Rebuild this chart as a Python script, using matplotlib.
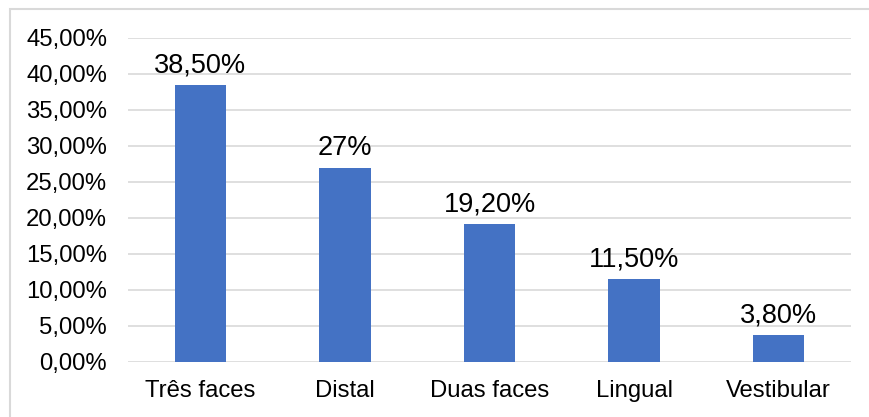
import matplotlib.pyplot as plt
from matplotlib.patches import Rectangle
from matplotlib.ticker import FuncFormatter

plt.rcParams['font.family'] = ['Liberation Sans', 'DejaVu Sans']

# dados
categorias = ['Três faces', 'Distal', 'Duas faces', 'Lingual', 'Vestibular']
valores = [38.5, 27.0, 19.2, 11.5, 3.8]
rotulos = ['38,50%', '27%', '19,20%', '11,50%', '3,80%']

fig = plt.figure(figsize=(8.69, 4.17), dpi=100)
ax = fig.add_axes([0.1473, 0.1319, 0.832, 0.777])

# moldura do gráfico
fig.patches.append(Rectangle((10 / 869, -0.05), 1.0, 1 - 9 / 417 + 0.05,
                             transform=fig.transFigure, fill=False,
                             edgecolor='#D9D9D9', lw=1.5))

x = range(len(categorias))
ax.bar(x, valores, width=0.355, color='#4472C4', zorder=3)

for xi, v, r in zip(x, valores, rotulos):
    ax.text(xi, v + 0.9, r, ha='center', va='bottom', fontsize=19.5, color='#000000')

ax.set_xlim(-0.5, len(categorias) - 0.5)
ax.set_ylim(0, 45)
ax.set_yticks(range(0, 46, 5))
ax.yaxis.set_major_formatter(FuncFormatter(lambda v, p: f'{v:.2f}%'.replace('.', ',')))
ax.set_xticks(list(x))
ax.set_xticklabels(categorias)
ax.tick_params(axis='both', length=0, labelsize=17.2, colors='#000000')
ax.tick_params(axis='x', pad=13)
ax.tick_params(axis='y', pad=15)

ax.grid(axis='y', color='#D9D9D9', lw=1.2, zorder=0)
for s in ax.spines.values():
    s.set_visible(False)

fig.savefig('out.png', dpi=100)
